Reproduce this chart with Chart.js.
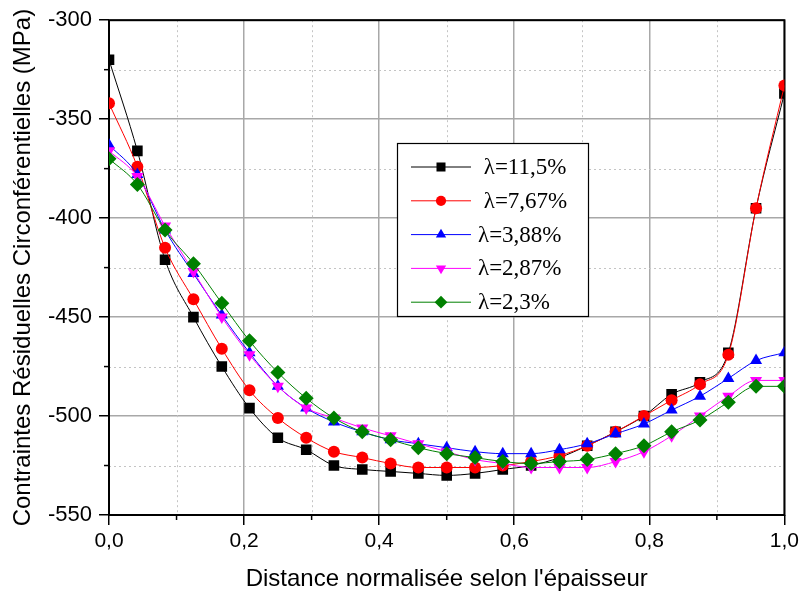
<!DOCTYPE html>
<html lang="fr">
<head>
<meta charset="utf-8">
<title>Contraintes résiduelles circonférentielles</title>
<script src="https://cdn.jsdelivr.net/npm/chart.js@4.4.1/dist/chart.umd.min.js"></script>
<style>
  html, body { margin: 0; padding: 0; background: #fff; }
  #wrap { width: 803px; height: 596px; position: relative; }
</style>
</head>
<body>
<div id="wrap"><canvas id="stressChart"></canvas></div>
<script>
// normalised position through the wall thickness
const positions = [0, 0.042, 0.083, 0.125, 0.167, 0.208, 0.25, 0.292, 0.333, 0.375, 0.417, 0.458,
                   0.5, 0.542, 0.583, 0.625, 0.667, 0.708, 0.75, 0.792, 0.833, 0.875, 0.917, 0.958, 1];

const seriesLabels = [" λ=11,5%", " λ=7,67%", "λ=3,88%", "λ=2,87%", "λ=2,3%"];

// circumferential residual stress, MPa
const lambda115 = [-320, -366, -421, -450, -475, -496, -511, -517, -525, -527, -528, -529,
                   -530, -529, -527, -525, -521, -515, -508, -500, -489, -483, -468, -395, -337];
const lambda767 = [-342, -374, -415, -441, -466, -487, -501, -511, -518, -521, -524, -526,
                   -526, -526, -525, -523, -520, -515, -508, -500, -492, -484, -469, -395, -333];
const lambda388 = [-363, -378, -406, -428, -449, -468, -485, -496, -503, -508, -512, -514,
                   -516, -518, -519, -519, -517, -514, -509, -504, -497, -490, -481, -472, -468];
const lambda287 = [-366, -379, -404, -427, -450, -469, -485, -496, -501, -506, -510, -514,
                   -518, -522, -524, -526, -526, -526, -523, -518, -510, -500, -490, -482, -482];
const lambda23  = [-370, -383, -406, -423, -443, -462, -478, -491, -501, -508, -512, -516,
                   -519, -521, -523, -524, -523, -522, -519, -515, -508, -502, -493, -485, -485];

const xMinorTicks = [0.1, 0.3, 0.5, 0.7, 0.9];
const yMinorTicks = [-325, -375, -425, -475, -525];

const seriesStyles = [
  { color: "#000000", pointStyle: "rect",     rotation: 0,   radius: 7.5 },
  { color: "#ff0000", pointStyle: "circle",   rotation: 0,   radius: 6 },
  { color: "#0000ff", pointStyle: "triangle", rotation: 0,   radius: 7 },
  { color: "#ff00ff", pointStyle: "triangle", rotation: 180, radius: 7 },
  { color: "#008000", pointStyle: "rectRot",  rotation: 0,   radius: 7.5 }
];

const seriesValues = [lambda115, lambda767, lambda388, lambda287, lambda23];

const datasets = seriesValues.map((vals, i) => {
  const s = seriesStyles[i];
  return {
    label: seriesLabels[i],
    data: positions.map((x, k) => ({ x: x, y: vals[k] })),
    borderColor: s.color,
    backgroundColor: s.color,
    borderWidth: 1,
    pointStyle: s.pointStyle,
    rotation: s.rotation,
    pointRadius: s.radius,
    pointBorderWidth: 0,
    pointHoverRadius: s.radius,
    cubicInterpolationMode: "monotone",
    order: seriesValues.length - i
  };
});

function line(ctx, x1, y1, x2, y2) {
  ctx.beginPath();
  ctx.moveTo(x1, y1);
  ctx.lineTo(x2, y2);
  ctx.stroke();
}

// dotted minor grid, minor ticks and the black frame
const frameAndMinorGrid = {
  id: "frameAndMinorGrid",
  beforeDatasetsDraw(chart) {
    const { ctx, chartArea: a, scales: { x, y } } = chart;
    ctx.save();
    ctx.strokeStyle = "#c4c4c4";
    ctx.lineWidth = 1;
    ctx.setLineDash([2, 3]);
    xMinorTicks.forEach(v => {
      const px = Math.round(x.getPixelForValue(v)) + 0.5;
      line(ctx, px, a.top, px, a.bottom);
    });
    yMinorTicks.forEach(v => {
      const py = Math.round(y.getPixelForValue(v)) + 0.5;
      line(ctx, a.left, py, a.right, py);
    });
    ctx.setLineDash([]);
    ctx.strokeStyle = "#000";
    ctx.lineWidth = 1.5;
    xMinorTicks.forEach(v => {
      const px = x.getPixelForValue(v);
      line(ctx, px, a.bottom, px, a.bottom + 5);
    });
    yMinorTicks.forEach(v => {
      const py = y.getPixelForValue(v);
      line(ctx, a.left - 5, py, a.left, py);
    });
    ctx.lineWidth = 2;
    ctx.strokeRect(a.left, a.top, a.right - a.left, a.bottom - a.top);
    ctx.restore();
  }
};

// boxed legend with line + marker samples
const boxedLegend = {
  id: "boxedLegend",
  afterDatasetsDraw(chart) {
    const { ctx } = chart;
    const box = { left: 397, top: 143, width: 191, height: 173 };
    const rowGap = 33.8;
    ctx.save();
    ctx.fillStyle = "#fff";
    ctx.fillRect(box.left, box.top, box.width, box.height);
    ctx.strokeStyle = "#000";
    ctx.lineWidth = 1.2;
    ctx.strokeRect(box.left + 0.5, box.top + 0.5, box.width, box.height);
    ctx.font = "23px 'Liberation Serif', 'Times New Roman', serif";
    ctx.textBaseline = "middle";
    ctx.textAlign = "left";
    chart.data.datasets.forEach((ds, i) => {
      const yRow = box.top + 24 + i * rowGap;
      ctx.strokeStyle = ds.borderColor;
      ctx.lineWidth = 1;
      line(ctx, 411, yRow, 471, yRow);
      ctx.fillStyle = ds.backgroundColor;
      Chart.helpers.drawPoint(ctx, {
        pointStyle: ds.pointStyle,
        rotation: ds.rotation,
        radius: ds.pointRadius * 0.85,
        borderWidth: 0
      }, 441, yRow);
      ctx.fillStyle = "#000";
      ctx.fillText(ds.label, 478, yRow + 1);
    });
    ctx.restore();
  }
};

Chart.defaults.font.family = "'Liberation Sans', Arial, sans-serif";
Chart.defaults.color = "#000";

new Chart(document.getElementById("stressChart"), {
  type: "line",
  data: { datasets: datasets },
  options: {
    responsive: true,
    maintainAspectRatio: false,
    animation: false,
    events: [],
    layout: { padding: { top: 16, right: 17, left: 0, bottom: 0 } },
    plugins: {
      legend: { display: false },
      tooltip: { enabled: false }
    },
    scales: {
      x: {
        type: "linear",
        min: 0,
        max: 1,
        afterFit: scale => { scale.height = 81; },
        ticks: {
          stepSize: 0.2,
          padding: 4,
          maxRotation: 0,
          font: { size: 21 },
          callback: v => v.toFixed(1).replace(".", ",")
        },
        grid: { color: "#a8a8a8", lineWidth: 1.5, tickColor: "#000", tickLength: 10, tickWidth: 1.5 },
        border: { display: false },
        title: {
          display: true,
          text: "Distance normalisée selon l'épaisseur",
          font: { size: 24 },
          padding: { top: 0, bottom: 2 }
        }
      },
      y: {
        min: -550,
        max: -300,
        afterFit: scale => { scale.width = 109; },
        ticks: {
          stepSize: 50,
          padding: 7,
          font: { size: 22 }
        },
        grid: { color: "#a8a8a8", lineWidth: 1.5, tickColor: "#000", tickLength: 10, tickWidth: 1.5 },
        border: { display: false },
        title: {
          display: true,
          text: "Contraintes Résiduelles Circonférentielles (MPa)",
          font: { size: 24 },
          padding: { top: 9, bottom: 0 }
        }
      }
    }
  },
  plugins: [frameAndMinorGrid, boxedLegend]
});
</script>
</body>
</html>
